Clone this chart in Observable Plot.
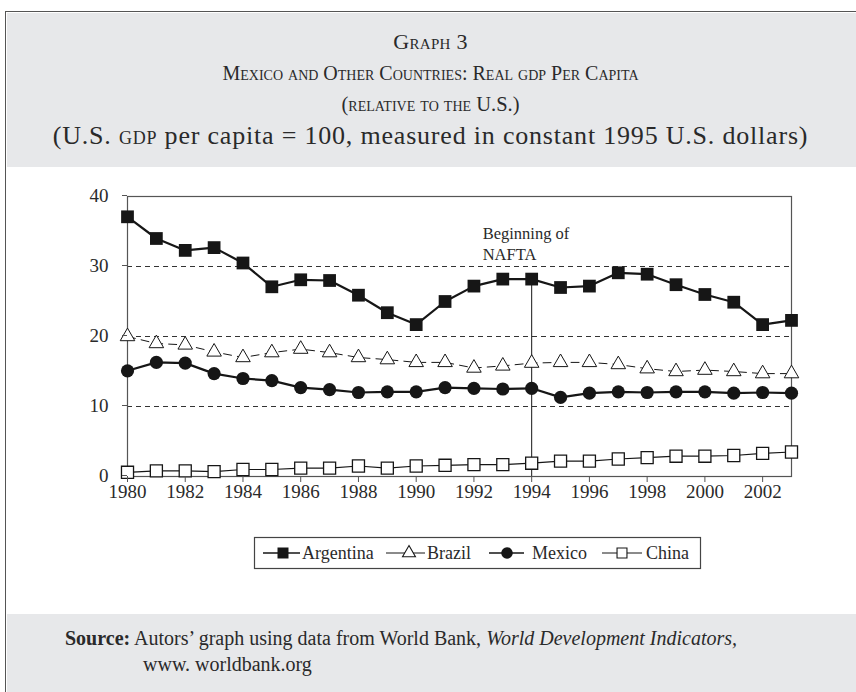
<!DOCTYPE html>
<html><head><meta charset="utf-8">
<script src="https://cdn.jsdelivr.net/npm/d3@7"></script>
<script src="https://cdn.jsdelivr.net/npm/@observablehq/plot@0.6"></script>
<style>
body{margin:0;background:#fff;font-family:"Liberation Serif",serif;color:#2a2a2a}
#page{position:relative;width:856px;height:692px;overflow:hidden;background:#fff}
#frameline{position:absolute;left:5px;top:11px;width:851px;height:681px;border-top:1.5px solid #555;border-left:1.5px solid #555;box-sizing:border-box}
#header{position:absolute;left:7px;top:13px;width:849px;height:154px;background:#e7e8ea}
#footer{position:absolute;left:7px;top:614px;width:849px;height:78px;background:#e7e8ea}
.tl{position:absolute;left:5px;width:851px;text-align:center;white-space:nowrap;line-height:1;transform:translateY(-50%)}
.sc{font-variant:small-caps}
#chart{position:absolute;left:0;top:180px}
#legend{position:absolute;left:0;top:530px}
#src{position:absolute;left:65px;top:625px;width:780px;font-size:20px;line-height:26px;padding-left:78px;text-indent:-78px;color:#2a2a2a;white-space:nowrap}
</style></head>
<body><div id="page">
<div id="header"></div>
<div id="footer"></div>
<div id="frameline"></div>
<div class="tl sc" style="top:42px;font-size:22px;letter-spacing:0.3px">Graph 3</div>
<div class="tl sc" style="top:73px;font-size:20px">Mexico and Other Countries: Real gdp Per Capita</div>
<div class="tl sc" style="top:104px;font-size:20.5px">(relative to the U.S.)</div>
<div class="tl" style="top:136px;font-size:26px;letter-spacing:0.8px">(U.S. <span class="sc">gdp</span> per capita = 100, measured in constant 1995 U.S. dollars)</div>
<div id="chart"></div>
<div id="legend"></div>
<div id="src"><b>Source:</b> Autors’ graph using data from World Bank, <i>World Development Indicators,</i><br>www. worldbank.org</div>
</div>
<script>
const years = [1980,1981,1982,1983,1984,1985,1986,1987,1988,1989,1990,1991,1992,1993,1994,1995,1996,1997,1998,1999,2000,2001,2002,2003];
const argentina = [37.1,34.0,32.3,32.7,30.5,27.1,28.1,28.0,25.9,23.4,21.7,25.0,27.2,28.2,28.2,27.0,27.2,29.1,28.9,27.4,26.0,24.9,21.7,22.3];
const brazil = [20.0,19.0,18.8,17.8,17.0,17.7,18.2,17.7,17.0,16.7,16.3,16.3,15.5,15.8,16.2,16.3,16.3,16.0,15.4,15.0,15.2,15.0,14.7,14.7];
const mexico = [15.1,16.3,16.2,14.7,14.0,13.7,12.7,12.4,12.0,12.1,12.1,12.7,12.6,12.5,12.6,11.3,11.9,12.1,12.0,12.1,12.1,11.9,12.0,11.9];
const china = [0.6,0.8,0.8,0.7,1.0,1.0,1.2,1.2,1.5,1.2,1.5,1.6,1.7,1.7,1.9,2.2,2.2,2.5,2.7,2.9,2.9,3.0,3.3,3.5];
const countries = ["Argentina","Brazil","Mexico","China"];
const xTicks = [1980,1982,1984,1986,1988,1990,1992,1994,1996,1998,2000,2002];
const yTicks = [0,10,20,30,40];
const gridValues = [10,20,30];
const naftaYear = 1994;
const naftaLabel = "Beginning of\nNAFTA";

const series = {Argentina: argentina, Brazil: brazil, Mexico: mexico, China: china};
const rows = c => years.map((yr, i) => ({year: yr, value: series[c][i]}));
const naftaValue = argentina[years.indexOf(naftaYear)];
const ink = "#161616";

const chart = Plot.plot({
  width: 856, height: 330,
  marginLeft: 127, marginRight: 65, marginTop: 16, marginBottom: 34,
  style: {fontFamily: "Liberation Serif, serif", fontSize: "19px", color: "#2a2a2a", background: "transparent"},
  x: {domain: [1980, 2003], label: null},
  y: {domain: [0, 40], label: null},
  marks: [
    Plot.ruleY(gridValues, {stroke: "#333", strokeWidth: 1, strokeDasharray: "5,4"}),
    Plot.frame({stroke: "#555", strokeWidth: 1.2}),
    Plot.line(rows("China"), {x: "year", y: "value", stroke: ink, strokeWidth: 1.2}),
    Plot.line(rows("Brazil"), {x: "year", y: "value", stroke: ink, strokeWidth: 1, strokeDasharray: "8,6"}),
    Plot.line(rows("Mexico"), {x: "year", y: "value", stroke: ink, strokeWidth: 2.2}),
    Plot.line(rows("Argentina"), {x: "year", y: "value", stroke: ink, strokeWidth: 2.2}),
    Plot.ruleX([naftaYear], {y1: 0, y2: naftaValue, stroke: ink, strokeWidth: 1}),
    Plot.dot(rows("China"), {x: "year", y: "value", symbol: "square", r: 6.8, fill: "white", stroke: ink, strokeWidth: 1.3}),
    Plot.dot(rows("Brazil"), {x: "year", y: "value", symbol: "triangle", r: 5.4, fill: "white", stroke: ink, strokeWidth: 1}),
    Plot.dot(rows("Mexico"), {x: "year", y: "value", symbol: "circle", r: 6.6, fill: ink}),
    Plot.dot(rows("Argentina"), {x: "year", y: "value", symbol: "square", r: 7.2, fill: ink}),
    Plot.axisY({ticks: yTicks, tickSize: 5, tickPadding: 14, dy: -1, stroke: "#555", fontSize: 19, label: null}),
    Plot.axisX({ticks: xTicks, tickFormat: "d", tickSize: 6, tickPadding: 2, stroke: "#555", fontSize: 19, label: null}),
    Plot.text([naftaLabel], {x: () => naftaYear, y: () => 33.4, text: d => d, textAnchor: "start", dx: -49, fontSize: 16.5, lineHeight: 1.25, fill: "#2a2a2a"})
  ]
});
document.getElementById("chart").appendChild(chart);

// legend
const lg = d3.select("#legend").append("svg").attr("width", 856).attr("height", 50);
lg.append("rect").attr("x", 254.5).attr("y", 7.5).attr("width", 446).attr("height", 31)
  .attr("fill", "white").attr("stroke", "#444").attr("stroke-width", 1.2);
const items = [
  {name: countries[0], x0: 263, x1: 300, mx: 283, tx: 302, sym: d3.symbolSquare, r: 6.2, fill: ink, stroke: "none", lw: 1.5},
  {name: countries[1], x0: 386, x1: 425, mx: 409, tx: 427, sym: d3.symbolTriangle, r: 4.8, fill: "white", stroke: ink, lw: 1},
  {name: countries[2], x0: 489, x1: 524, mx: 507, tx: 532, sym: d3.symbolCircle, r: 5.8, fill: ink, stroke: "none", lw: 1.5},
  {name: countries[3], x0: 602, x1: 642, mx: 622, tx: 646, sym: d3.symbolSquare, r: 5.6, fill: "white", stroke: ink, lw: 1}
];
const ly = 23;
for (const it of items) {
  lg.append("line").attr("x1", it.x0).attr("x2", it.x1).attr("y1", ly).attr("y2", ly).attr("stroke", ink).attr("stroke-width", it.lw);
  lg.append("path").attr("d", d3.symbol(it.sym, Math.PI * it.r * it.r)()).attr("transform", `translate(${it.mx},${ly})`)
    .attr("fill", it.fill).attr("stroke", it.stroke).attr("stroke-width", 1.1);
  lg.append("text").attr("x", it.tx).attr("y", ly).attr("dy", "0.35em").attr("font-family", "Liberation Serif, serif")
    .attr("font-size", 18).attr("fill", "#2a2a2a").text(it.name);
}
</script>
</body></html>
